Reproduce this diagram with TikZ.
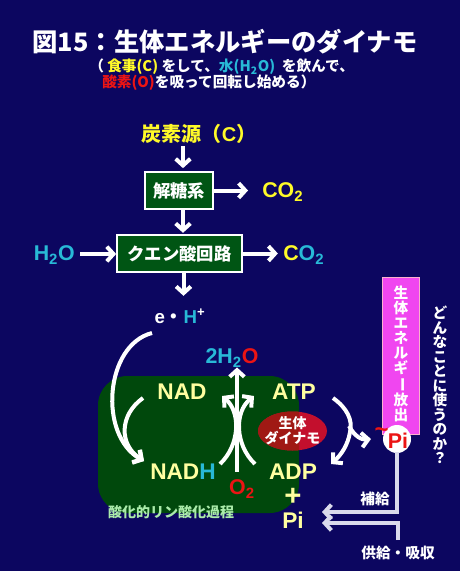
\documentclass[tikz,border=0pt]{standalone}
\usepackage{fontspec}
\newfontfamily\jp{Noto Sans CJK JP}
\newfontfamily\lat{Liberation Sans}
\usetikzlibrary{arrows.meta}

\definecolor{bgnavy}{RGB}{12,6,96}
\definecolor{cyellow}{RGB}{255,250,40}
\definecolor{cpale}{RGB}{255,255,160}
\definecolor{ccyan}{RGB}{40,185,215}
\definecolor{cred}{RGB}{235,20,20}
\definecolor{boxgreen}{RGB}{0,85,20}
\definecolor{padgreen}{RGB}{0,72,12}
\definecolor{dynred}{RGB}{195,15,45}
\definecolor{dynbrown}{RGB}{160,25,20}
\definecolor{cpink}{RGB}{240,70,240}
\definecolor{pinkedge}{RGB}{250,175,205}
\definecolor{cmint}{RGB}{170,235,170}
\definecolor{cgrey}{RGB}{218,218,235}

\newcommand{\lo}[1]{\textsubscript{#1}}

\begin{document}
\begin{tikzpicture}[x=0.75pt,y=0.75pt,yscale=-1,xscale=1,
  warrow/.style={draw=white,line width=3pt,-{Straight Barb[length=5pt,width=11pt]}},
  garrow/.style={draw=cgrey,line width=3pt,-{Straight Barb[length=5pt,width=11pt]}},
  stepbox/.style={draw=white,line width=1.5pt,fill=boxgreen,text=white,font=\jp\bfseries\fontsize{13}{15}\selectfont,inner sep=0pt},
  chem/.style={font=\lat\bfseries\fontsize{16}{18}\selectfont},
  jtext/.style={font=\jp\bfseries\fontsize{11}{13}\selectfont,text=white,inner sep=0pt}]

% background
\fill[bgnavy] (0,0) rectangle (460,571);
\useasboundingbox (0,0) rectangle (460,571);

% Text Node
\node (title) at (225,42) {\jp\bfseries\fontsize{19}{22}\selectfont\color{white}図15：生体エネルギーのダイナモ};
% Text Node
\node[anchor=west,inner sep=0pt] (sub1) at (89,67) {\jp\bfseries\fontsize{11}{12}\selectfont\color{white}（ \textcolor{cyellow}{食事(C)} をして、\textcolor{ccyan}{水(H\lo{2}O)}\ \ を飲んで、};
% Text Node
\node[anchor=west,inner sep=0pt] (sub2) at (102,83) {\jp\bfseries\fontsize{11}{12}\selectfont\color{white}\textcolor{cred}{酸素(O)}を吸って回転し始める）};

% Text Node
\node[text=cyellow,inner sep=0pt] (carbon) at (199,134) {\jp\bfseries\fontsize{15}{17}\selectfont 炭素源（{\lat C}）};
% Shape: Rectangle
\node[stepbox,minimum width=51pt,minimum height=27.5pt] (glyco) at (179,190.5) {解糖系};
% Shape: Rectangle
\node[stepbox,minimum width=93.5pt,minimum height=27.5pt] (tca) at (179.5,253.5) {クエン酸回路};
% Text Node
\node[chem,text=cyellow,anchor=west,inner sep=0pt] (co2a) at (262,192) {CO\lo{2}};
% Text Node
\node[chem,anchor=west,inner sep=0pt] (co2b) at (283,255) {\textcolor{cyellow}{C}\textcolor{ccyan}{O\lo{2}}};
% Text Node
\node[chem,text=ccyan,anchor=east,inner sep=0pt] (water) at (75,255) {H\lo{2}O};
% Text Node
\node[font=\lat\bfseries\fontsize{14}{16}\selectfont,inner sep=0pt] (eh) at (180,316) {\textcolor{white}{e}\jp\textcolor{white}{・}\lat\textcolor{ccyan}{H}\textcolor{white}{\textsuperscript{+}}};

% Straight Lines
\draw[warrow] (glyco.north) ++(4,-25) -- ++(0,22);
\draw[warrow] (glyco.east) -- ++(34,0);
\draw[warrow] (glyco.south) ++(4,0) -- ++(0,23);
\draw[warrow] (water.east) ++(5,-1) -- (tca.west |- 0,254);
\draw[warrow] (tca.east) -- ++(35,0);
\draw[warrow] (tca.south) ++(4,0) -- ++(0,23);

% Shape: Rounded Rectangle
\fill[padgreen,rounded corners=22] (98,376) rectangle (299,513);
% Shape: Ellipse
\fill[dynred] (292.5,431) ellipse [x radius=34.5,y radius=19.5];
\begin{scope}
\clip[rounded corners=22] (98,376) rectangle (299,513);
\fill[dynbrown] (292.5,431) ellipse [x radius=34.5,y radius=19.5];
\end{scope}
% Text Node
\node[align=center,text=white,font=\jp\bfseries\fontsize{10.5}{11.5}\selectfont,inner sep=0pt] (dynamo) at (292.5,431) {生体\\ダイナモ};

% Text Node
\node[chem,text=cpale,font=\lat\bfseries\fontsize{17}{19}\selectfont,inner sep=0pt] (nad) at (182,392) {NAD};
\node[chem,text=cpale,font=\lat\bfseries\fontsize{17}{19}\selectfont,inner sep=0pt] (atp) at (294,392) {ATP};
\node[chem,font=\lat\bfseries\fontsize{17}{19}\selectfont,inner sep=0pt] (nadh) at (183,472) {\textcolor{cpale}{NAD}\textcolor{ccyan}{H}};
\node[chem,text=cpale,font=\lat\bfseries\fontsize{17}{19}\selectfont,inner sep=0pt] (adp) at (293,472) {ADP};
\node[text=cpale,font=\lat\bfseries\fontsize{22}{22}\selectfont,inner sep=0pt] (plus) at (293,497) {+};
\node[chem,text=cpale,font=\lat\bfseries\fontsize{17}{19}\selectfont,inner sep=0pt] (pi) at (293,520) {Pi};
\node[chem,text=cred,inner sep=0pt] (oxy) at (242,489) {O\lo{2}};
\node[chem,inner sep=0pt] (h2o) at (232,358) {\textcolor{ccyan}{2H\lo{2}}\textcolor{cred}{O}};
\node[text=cmint,font=\jp\bfseries\fontsize{10.5}{12}\selectfont,inner sep=0pt] (oxphos) at (171,512) {酸化的リン酸化過程};

% curved arrows
\draw[warrow] (152,333) .. controls (105,345) and (98,435) .. (144,461);
\draw[warrow] (143,398) .. controls (119,415) and (119,445) .. (144,461);
\draw[warrow] (oxy.north -| 237,0) ++(0,-8) -- (h2o.south -| 237,0);
\draw[warrow] (220,464) .. controls (240,445) and (241,412) .. (222,396);
\draw[warrow] (255,464) .. controls (235,445) and (234,412) .. (254,396);
\draw[warrow] (333,398) .. controls (347,408) and (353,420) .. (350,432) .. controls (348,445) and (341,455) .. (331,464);
\draw[warrow] (349,426) .. controls (355,437) and (362,440) .. (371,439);

% Shape: Rectangle (pink)
\node[draw=pinkedge,line width=1.2pt,fill=cpink,minimum width=27.5pt,minimum height=118pt,inner sep=0pt] (release) at (401,356) {};
\node[jtext,align=center,font=\jp\bfseries\fontsize{11}{11.2}\selectfont] (releasetxt) at (401,354) {生\\体\\エ\\ネ\\ル\\ギ\\\rotatebox[origin=c]{-90}{ー}\\放\\出};
% Shape: Circle
\node[circle,fill=white,minimum size=21pt,inner sep=0pt] (ppi) at (397,439) {};
\node[text=cred,font=\lat\bfseries\fontsize{16}{18}\selectfont,inner sep=0pt] (ppitxt) at (398,441) {Pi};
\node[text=cred,font=\lat\bfseries\fontsize{18}{18}\selectfont,inner sep=0pt,anchor=east] (tilde) at ([xshift=1]ppitxt.north west) {\char`\~};

% Text Node (vertical question)
\node[jtext,align=center,font=\jp\bfseries\fontsize{11}{10.9}\selectfont] (usage) at (440,385) {ど\\ん\\な\\こ\\と\\に\\使\\う\\の\\か\\？};

% supply lines
\draw[garrow] (ppi.south |- 0,452) |- (322,512);
\draw[garrow] (398,540) |- (322,523);
% Text Node
\node[jtext] (hokyu) at (375,499) {補給};
\node[jtext] (kyokyu) at (398,553) {供給・吸収};

\end{tikzpicture}
\end{document}
